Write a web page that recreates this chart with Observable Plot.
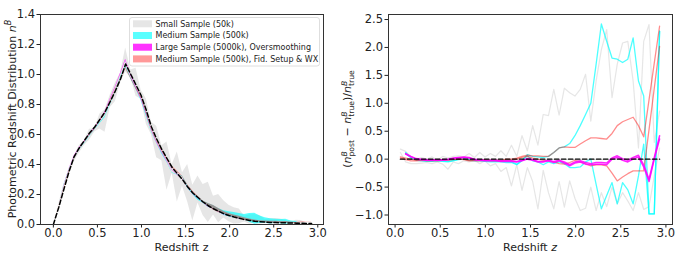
<!DOCTYPE html>
<html><head><meta charset="utf-8">
<script src="https://cdn.jsdelivr.net/npm/d3@7"></script>
<script src="https://cdn.jsdelivr.net/npm/@observablehq/plot@0.6"></script>
<style>
body{margin:0;background:#fff;}
#wrap{display:flex;width:680px;height:257px;}
</style></head><body><div id="wrap"></div>
<script>
// Redshift grid
const z = [0, 0.059, 0.117, 0.176, 0.234, 0.293, 0.352, 0.410, 0.469, 0.527, 0.586, 0.645, 0.703, 0.762, 0.820, 0.879, 0.938, 0.996, 1.055, 1.113, 1.172, 1.231, 1.289, 1.348, 1.406, 1.465, 1.524, 1.582, 1.641, 1.699, 1.758, 1.817, 1.875, 1.934, 1.992, 2.051, 2.110, 2.168, 2.227, 2.285, 2.344, 2.403, 2.461, 2.520, 2.578, 2.637, 2.696, 2.754, 2.813, 2.871, 2.930];
// true distribution n^B_true
const nTrue = [0, 0.11, 0.23, 0.35, 0.45, 0.51, 0.56, 0.61, 0.65, 0.70, 0.75, 0.82, 0.89, 0.97, 1.07, 1.00, 0.93, 0.86, 0.76, 0.65, 0.57, 0.50, 0.44, 0.38, 0.34, 0.30, 0.25, 0.21, 0.18, 0.15, 0.125, 0.105, 0.088, 0.072, 0.060, 0.050, 0.041, 0.033, 0.027, 0.022, 0.018, 0.016, 0.014, 0.013, 0.012, 0.011, 0.010, 0.009, 0.008, 0.007, 0.006];
// relative residuals of band edges
const smallA = [null, 0.18, 0.14, 0.04, 0.00, 0.03, 0.00, 0.04, -0.02, 0.05, 0.02, 0.05, 0.06, 0.04, 0.10, 0.03, 0.12, 0.04, 0.10, 0.05, 0.15, 0.05, 0.25, 0.05, 0.42, 0.15, 0.60, 0.25, 0.80, 0.78, 1.25, 0.79, 1.27, 1.19, 1.13, 1.25, 1.52, 0.68, 1.40, 1.96, 2.32, 1.10, 1.70, 2.08, 2.11, 1.40, 0.20, 2.11, 2.41, 0.30, 0.86];
const smallB = [null, 0.12, -0.05, -0.08, -0.08, -0.07, -0.06, -0.08, -0.05, -0.09, -0.18, -0.05, -0.08, -0.03, -0.05, -0.02, -0.08, -0.03, -0.12, -0.08, -0.22, -0.15, -0.48, -0.10, -0.56, -0.15, -0.40, -0.89, -0.20, -0.60, -0.89, -0.40, -0.86, -0.39, -0.70, -0.92, -0.88, -0.50, -0.92, -0.60, -0.85, -0.50, -0.80, -0.60, -0.75, -0.92, -0.60, -0.90, -0.85, -0.30, 0.20];
const mediumU = [null, null, 0.10, 0.03, -0.01, -0.02, -0.03, -0.03, -0.02, -0.03, -0.04, -0.02, 0.00, 0.01, -0.01, -0.02, -0.02, -0.03, -0.03, -0.04, -0.04, -0.04, -0.05, -0.09, -0.02, 0.08, 0.05, 0.04, 0.03, 0.05, 0.12, 0.20, 0.22, 0.28, 0.42, 0.60, 0.80, 1.00, 1.70, 2.42, 2.11, 1.81, 1.79, 1.73, 1.79, 2.17, 1.40, 1.13, -0.98, -0.98, 2.29];
const mediumL = [null, null, 0.12, 0.02, -0.02, -0.03, -0.04, -0.04, -0.03, -0.04, -0.05, -0.03, -0.01, 0.00, -0.02, -0.03, -0.03, -0.04, -0.05, -0.05, -0.05, -0.06, -0.06, -0.10, -0.03, 0.06, -0.03, -0.05, -0.10, -0.05, -0.08, -0.05, -0.08, -0.15, -0.15, -0.14, -0.05, 0.00, -0.45, -0.89, -0.65, -0.42, -0.80, -0.42, -0.55, -0.80, -0.30, 0.27, -0.98, -0.98, 2.29];
const largeU = [null, null, 0.10, 0.05, 0.01, 0.00, -0.01, -0.01, -0.01, -0.01, 0.00, 0.02, 0.03, 0.04, 0.03, 0.00, -0.01, -0.02, -0.02, -0.02, -0.03, -0.03, -0.03, -0.04, -0.02, 0.01, -0.01, -0.04, -0.04, -0.02, -0.04, -0.02, -0.05, -0.10, -0.05, -0.03, -0.06, -0.08, -0.06, -0.06, -0.07, 0.02, 0.06, 0.01, -0.02, 0.03, 0.07, -0.10, -0.36, 0.03, 0.42];
const largeL = [null, null, 0.09, 0.04, 0.00, -0.01, -0.02, -0.02, -0.02, -0.02, -0.01, 0.01, 0.02, 0.03, 0.02, -0.01, -0.02, -0.03, -0.03, -0.03, -0.04, -0.04, -0.04, -0.05, -0.03, 0.00, -0.02, -0.05, -0.05, -0.03, -0.06, -0.03, -0.07, -0.12, -0.07, -0.05, -0.09, -0.10, -0.09, -0.09, -0.10, 0.00, 0.03, -0.02, -0.05, 0.00, 0.04, -0.14, -0.40, 0.00, 0.36];
const fidU = [null, 0.04, 0.02, 0.00, -0.02, -0.01, -0.02, -0.02, -0.02, -0.01, -0.01, 0.00, 0.01, 0.00, -0.02, -0.02, -0.02, -0.01, -0.02, -0.02, -0.02, 0.00, 0.00, 0.02, 0.05, 0.07, 0.06, 0.06, 0.05, 0.05, 0.12, 0.20, 0.22, 0.21, 0.21, 0.27, 0.33, 0.38, 0.38, 0.37, 0.36, 0.46, 0.60, 0.67, 0.71, 0.75, 0.60, 0.40, 1.06, 1.72, 2.38];
const fidL = [null, 0.02, -0.01, -0.03, -0.03, -0.02, -0.03, -0.03, -0.03, -0.02, -0.02, -0.01, 0.00, -0.01, -0.03, -0.03, -0.03, -0.02, -0.03, -0.03, -0.03, -0.02, -0.02, 0.00, 0.03, 0.05, 0.02, 0.00, -0.02, -0.03, -0.05, -0.08, -0.09, -0.06, -0.02, -0.05, -0.08, -0.12, -0.10, -0.10, -0.12, -0.25, -0.39, -0.32, -0.26, -0.21, -0.21, -0.21, 0.53, 1.27, 2.02];

const legendLabels = ["Small Sample (50k)", "Medium Sample (500k)", "Large Sample (5000k), Oversmoothing", "Medium Sample (500k), Fid. Setup & WX"];
const legendColors = ["#e6e6e6", "#59ffff", "#ff33ff", "#ff9999"];
const xTicks = [0, 0.5, 1.0, 1.5, 2.0, 2.5, 3.0];
const yTicksL = [0, 0.2, 0.4, 0.6, 0.8, 1.0, 1.2, 1.4];
const yTicksR = [-1.0, -0.5, 0, 0.5, 1.0, 1.5, 2.0, 2.5];

const fmt = d => (d < 0 ? "\u2212" : "") + Math.abs(d).toFixed(1);
const rows = z.map((zz, i) => ({z: zz, n: nTrue[i], gA: smallA[i], gB: smallB[i], cU: mediumU[i], cL: mediumL[i], mU: largeU[i], mL: largeL[i], sU: fidU[i], sL: fidL[i]}));
function band(a, b) {
  return rows.map((d, i) => {
    const ra = a[i] ?? 0, rb = b[i] ?? 0;
    return {z: d.z, lo: d.n * (1 + Math.min(ra, rb)), hi: d.n * (1 + Math.max(ra, rb))};
  });
}
const style = {fontFamily: "DejaVu Sans", fontSize: "11px", color: "#222", background: "white", overflow: "visible"};

const left = Plot.plot({
  width: 340, height: 257, marginLeft: 40, marginRight: 17, marginTop: 14, marginBottom: 33,
  style,
  x: {domain: [-0.146, 3.065], ticks: xTicks, tickFormat: fmt, label: null, tickSize: 3.5, tickPadding: 1},
  y: {domain: [0, 1.4], ticks: yTicksL, tickFormat: fmt, label: null, tickSize: 3.5, tickPadding: 2},
  marks: [
    Plot.areaY(band(smallA, smallB), {x: "z", y1: "lo", y2: "hi", fill: "gray", fillOpacity: 0.2}),
    Plot.areaY(band(mediumU, mediumL), {x: "z", y1: "lo", y2: "hi", fill: "cyan", fillOpacity: 0.65}),
    Plot.areaY(band(largeU, largeL), {x: "z", y1: "lo", y2: "hi", fill: "magenta", fillOpacity: 0.8}),
    Plot.areaY(band(fidU, fidL), {x: "z", y1: "lo", y2: "hi", fill: "red", fillOpacity: 0.4}),
    Plot.lineY(rows, {x: "z", y: "n", stroke: "black", strokeWidth: 1.5, strokeDasharray: "4.5,2.5"}),
    Plot.frame({stroke: "#333", strokeWidth: 1})
  ]
});

const right = Plot.plot({
  width: 340, height: 257, marginLeft: 48, marginRight: 8, marginTop: 14, marginBottom: 33,
  style,
  x: {domain: [-0.073, 3.073], ticks: xTicks, tickFormat: fmt, label: null, tickSize: 3.5, tickPadding: 1},
  y: {domain: [-1.17, 2.59], ticks: yTicksR, tickFormat: fmt, label: null, tickSize: 3.5, tickPadding: 2},
  marks: [
    Plot.lineY(rows, {x: "z", y: "gA", stroke: "gray", strokeOpacity: 0.2, strokeWidth: 1.2}),
    Plot.lineY(rows, {x: "z", y: "gB", stroke: "gray", strokeOpacity: 0.2, strokeWidth: 1.2}),
    Plot.lineY(rows, {x: "z", y: "cU", stroke: "cyan", strokeOpacity: 0.7, strokeWidth: 1.3}),
    Plot.lineY(rows, {x: "z", y: "cL", stroke: "cyan", strokeOpacity: 0.7, strokeWidth: 1.3}),
    Plot.lineY(rows, {x: "z", y: "sU", stroke: "red", strokeOpacity: 0.45, strokeWidth: 1.3}),
    Plot.lineY(rows, {x: "z", y: "sL", stroke: "red", strokeOpacity: 0.45, strokeWidth: 1.3}),
    Plot.lineY(rows, {x: "z", y: "mU", stroke: "magenta", strokeOpacity: 0.85, strokeWidth: 1.5}),
    Plot.lineY(rows, {x: "z", y: "mL", stroke: "magenta", strokeOpacity: 0.85, strokeWidth: 1.5}),
    Plot.lineY(rows, {x: "z", y: d => (d.n - d.n) / d.n, stroke: "black", strokeWidth: 1.4, strokeDasharray: "4.5,2.5"}),
    Plot.frame({stroke: "#333", strokeWidth: 1})
  ]
});

// make tick labels the same size as the axis labels
for (const svg of [left, right]) d3.select(svg).selectAll("text").attr("font-size", 11.5).attr("fill", "#222");

// Left panel labels
const L = d3.select(left);
L.append("text").attr("x", 181.5).attr("y", 251).attr("text-anchor", "middle").attr("font-size", 11).attr("fill", "#222").text("Redshift z");
const ly = L.append("text").attr("transform", "translate(15.5,119) rotate(-90)").attr("text-anchor", "middle").attr("font-size", 11).attr("fill", "#222");
ly.append("tspan").text("Photometric Redshift Distribution ");
ly.append("tspan").attr("font-style", "italic").text("n");
ly.append("tspan").attr("font-style", "italic").attr("font-size", 8).attr("dy", -4.5).text("B");
// Legend
const lg = L.append("g");
lg.append("rect").attr("x", 129.5).attr("y", 17.5).attr("width", 190).attr("height", 48.5).attr("rx", 2.5)
  .attr("fill", "white").attr("fill-opacity", 0.8).attr("stroke", "#d5d5d5").attr("stroke-width", 0.8);
legendLabels.forEach((lab, i) => {
  const cy = 23.8 + i * 11.7;
  lg.append("rect").attr("x", 133).attr("y", cy - 3.5).attr("width", 19).attr("height", 7).attr("fill", legendColors[i]);
  lg.append("text").attr("x", 155.5).attr("y", cy).attr("dy", "0.35em").attr("text-anchor", "start").attr("font-size", 8).attr("fill", "#222").text(lab);
});

// Right panel labels
const R = d3.select(right);
const rx = R.append("text").attr("x", 190).attr("y", 251).attr("text-anchor", "middle").attr("font-size", 11).attr("fill", "#222");
rx.append("tspan").text("Redshift ");
rx.append("tspan").attr("font-style", "italic").text("z");
const ry = R.append("text").attr("transform", "translate(11,119) rotate(-90)").attr("text-anchor", "middle").attr("font-size", 11).attr("fill", "#222");
function nBsub(sub) {
  ry.append("tspan").attr("font-style", "italic").text("n");
  ry.append("tspan").attr("font-style", "italic").attr("font-size", 7.7).attr("dy", -4.5).text("B");
  ry.append("tspan").attr("font-size", 7.7).attr("dx", -5.3).attr("dy", 7.5).text(sub);
}
ry.append("tspan").text("(");
nBsub("post");
ry.append("tspan").attr("dy", -3).text(" \u2212 ");
nBsub("true");
ry.append("tspan").attr("dy", -3).text(")/");
nBsub("true");

document.getElementById("wrap").append(left, right);
</script>
</body></html>
